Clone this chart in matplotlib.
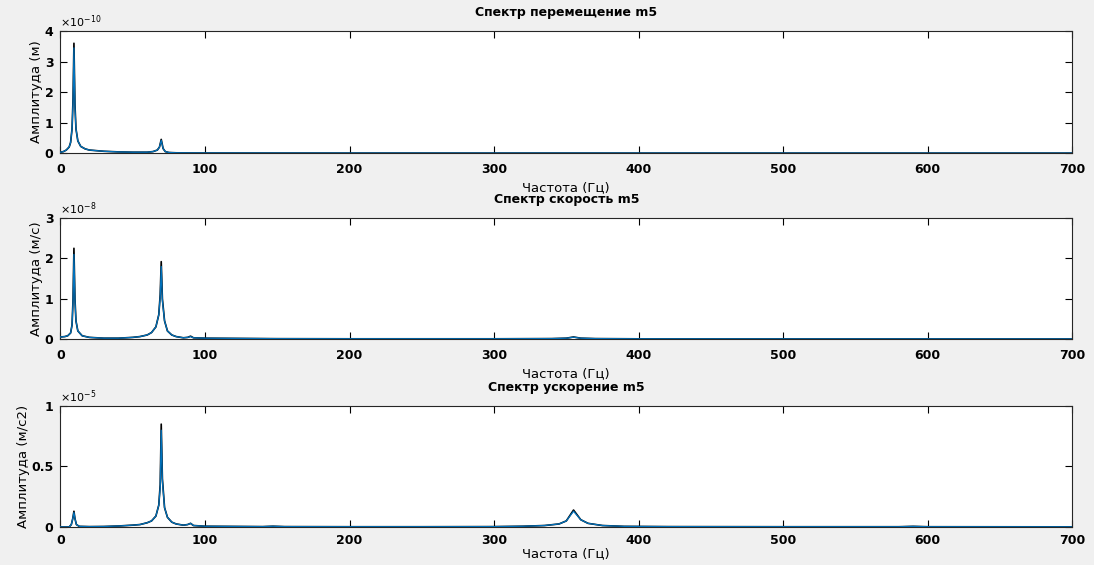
import matplotlib
matplotlib.use("Agg")
import matplotlib.pyplot as plt
from matplotlib.ticker import FuncFormatter

# ---- data (amplitudes in units of the panel scale factor) ----
freq_disp = [0, 2, 4, 6, 7, 8, 8.7, 9.3, 10, 10.7, 12, 14, 17, 20, 25, 30, 40, 50, 60, 64, 67,
             68.5, 69.7, 71, 72.5, 75, 80, 90, 100, 150, 200, 300, 350, 400, 500, 600, 700]
disp_black = [0.03, 0.05, 0.1, 0.2, 0.35, 0.8, 1.8, 3.6, 1.6, 0.8, 0.4, 0.22, 0.14, 0.1, 0.08, 0.06,
              0.04, 0.03, 0.03, 0.05, 0.1, 0.2, 0.45, 0.15, 0.05, 0.02, 0.01, 0.005, 0.004, 0.002,
              0.001, 0.0005, 0.001, 0.0005, 0.0003, 0.0002, 0.0001]
disp_blue = [0.03, 0.05, 0.1, 0.2, 0.35, 0.8, 1.7, 3.45, 1.5, 0.8, 0.4, 0.22, 0.14, 0.1, 0.08, 0.06,
             0.04, 0.03, 0.03, 0.05, 0.1, 0.2, 0.42, 0.15, 0.05, 0.02, 0.01, 0.005, 0.004, 0.002,
             0.001, 0.0005, 0.001, 0.0005, 0.0003, 0.0002, 0.0001]

freq_vel = [0, 3, 5, 7, 8, 8.7, 9.3, 10, 10.7, 12, 15, 20, 30, 40, 50, 55, 60, 63, 66, 68, 69,
            69.7, 70.5, 72, 74, 77, 80, 85, 88, 90, 92, 100, 150, 200, 300, 340, 350, 355, 360,
            370, 400, 500, 600, 700]
vel_black = [0.05, 0.06, 0.08, 0.15, 0.35, 1.0, 2.25, 1.0, 0.45, 0.2, 0.08, 0.04, 0.02, 0.02, 0.04,
             0.06, 0.1, 0.16, 0.3, 0.6, 1.1, 1.92, 1.0, 0.45, 0.2, 0.1, 0.06, 0.03, 0.04, 0.07,
             0.03, 0.02, 0.008, 0.005, 0.005, 0.01, 0.02, 0.05, 0.02, 0.01, 0.004, 0.002, 0.002,
             0.001]
vel_blue = [0.05, 0.06, 0.08, 0.15, 0.35, 0.95, 2.1, 0.95, 0.45, 0.2, 0.08, 0.04, 0.02, 0.02, 0.04,
            0.06, 0.1, 0.16, 0.3, 0.6, 1.05, 1.8, 0.95, 0.45, 0.2, 0.1, 0.06, 0.03, 0.04, 0.06,
            0.03, 0.02, 0.008, 0.005, 0.005, 0.01, 0.02, 0.045, 0.02, 0.01, 0.004, 0.002, 0.002,
            0.001]

freq_acc = [0, 6, 7.5, 8.5, 9.3, 10, 11, 13, 20, 30, 40, 50, 55, 60, 63, 66, 68, 69, 69.7, 70.5,
            72, 74, 77, 80, 85, 88, 90, 92, 100, 140, 147, 155, 200, 250, 300, 320, 335, 345,
            350, 355, 360, 365, 375, 390, 420, 500, 580, 590, 600, 700]
acc_black = [0.0, 0.0, 0.02, 0.07, 0.13, 0.07, 0.02, 0.005, 0.003, 0.004, 0.008, 0.015, 0.02,
             0.035, 0.05, 0.09, 0.18, 0.35, 0.85, 0.4, 0.16, 0.08, 0.04, 0.025, 0.015, 0.02, 0.03,
             0.012, 0.006, 0.003, 0.006, 0.003, 0.002, 0.002, 0.003, 0.006, 0.012, 0.025, 0.05,
             0.14, 0.06, 0.03, 0.012, 0.005, 0.003, 0.002, 0.002, 0.005, 0.002, 0.001]
acc_blue = [0.0, 0.0, 0.02, 0.07, 0.12, 0.07, 0.02, 0.005, 0.003, 0.004, 0.008, 0.015, 0.02,
            0.035, 0.05, 0.09, 0.18, 0.33, 0.8, 0.38, 0.16, 0.08, 0.04, 0.025, 0.015, 0.02, 0.03,
            0.012, 0.006, 0.003, 0.006, 0.003, 0.002, 0.002, 0.003, 0.006, 0.012, 0.025, 0.05,
            0.13, 0.06, 0.03, 0.012, 0.005, 0.003, 0.002, 0.002, 0.005, 0.002, 0.001]

titles = ["Спектр перемещение m5", "Спектр скорость m5", "Спектр ускорение m5"]
ylabels = ["Амплитуда (м)", "Амплитуда (м/с)", "Амплитуда (м/с2)"]
xlabel = "Частота (Гц)"
exponents = [-10, -8, -5]
ylims = [4, 3, 1]
yticks = [[0, 1, 2, 3, 4], [0, 1, 2, 3], [0, 0.5, 1]]
xticks = [0, 100, 200, 300, 400, 500, 600, 700]

series = [(freq_disp, disp_black, disp_blue),
          (freq_vel, vel_black, vel_blue),
          (freq_acc, acc_black, acc_blue)]

plt.rcParams['font.family'] = ['DejaVu Sans']
fig = plt.figure(figsize=(10.94, 5.65), dpi=100)
fig.patch.set_facecolor('#f0f0f0')

positions = [[0.0553, 0.729, 0.9247, 0.216],
             [0.0553, 0.400, 0.9247, 0.214],
             [0.0553, 0.0673, 0.9247, 0.2141]]
xlabel_pads = [4, 4, 0.5]

for i in range(3):
    ax = fig.add_axes(positions[i])
    ax.set_facecolor('white')
    f, yb, yl = series[i]
    ax.plot(f, yb, color='black', lw=1.2, zorder=2)
    ax.plot(f, yl, color='#0072BD', lw=0.9, zorder=3)
    ax.set_xlim(0, 700)
    ax.set_ylim(0, ylims[i])
    ax.set_xticks(xticks)
    ax.set_yticks(yticks[i])
    ax.yaxis.set_major_formatter(FuncFormatter(lambda v, p: '%g' % v))
    ax.tick_params(direction='in', top=True, right=True, length=5, width=0.8,
                   labelsize=9)
    ax.tick_params(axis='x', pad=7 if i < 2 else 5)
    ax.tick_params(axis='y', pad=5)
    for lab in ax.get_xticklabels() + ax.get_yticklabels():
        lab.set_fontweight('bold')
    for sp in ax.spines.values():
        sp.set_linewidth(0.8)
        sp.set_color('#262626')
    ax.set_title(titles[i], fontsize=9, fontweight='bold', pad=11)
    ax.set_xlabel(xlabel, fontsize=9.5, labelpad=xlabel_pads[i])
    ax.set_ylabel(ylabels[i], fontsize=9.5, labelpad=1)
    ax.text(0.0, 1.01, r'$\times10^{%d}$' % exponents[i], transform=ax.transAxes,
            fontsize=8, ha='left', va='bottom')

fig.savefig('out.png', dpi=100, facecolor=fig.get_facecolor())
